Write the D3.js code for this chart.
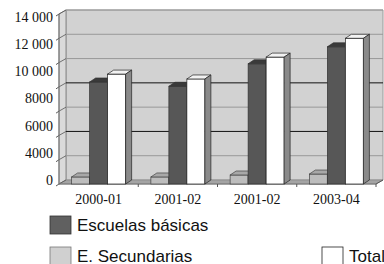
<!DOCTYPE html>
<html>
<head>
<meta charset="utf-8">
<script src="https://d3js.org/d3.v7.min.js"></script>
<style>
body{margin:0;background:#fff;}
</style>
</head>
<body>
<svg id="chart" width="384" height="264"></svg>
<script>
// data
var categories = ["2000-01", "2001-02", "2001-02", "2003-04"];
var secundarias = [580, 580, 740, 820];
var basicas = [8400, 8050, 9900, 11300];
var total = [9050, 8650, 10450, 12000];
var yTickLabels = ["14 000", "12 000", "10 000", "8000", "6000", "4000", "0"];
var gridValues = [0, 2000, 4000, 6000, 8000, 10000, 12000, 14000];
var darkGrid = [4000, 8000];
var seriesNames = ["E. Secundarias", "Escuelas básicas", "Total"];

var serifFont = "Liberation Serif, Times New Roman, serif";
var sansFont = "Liberation Sans, Arial, sans-serif";

var svg = d3.select("#chart");

var X0 = 59, X1 = 376, Y0 = 184, YT = 14;
var DX = 7, DY = -4;     // wall depth
var BDX = 6, BDY = -4;   // bar depth

var y = d3.scaleLinear().domain([0, 14000]).range([Y0, YT]);
var yLab = d3.scalePoint().domain(yTickLabels).range([17, 180]);
var x = d3.scaleBand().domain(d3.range(categories.length)).range([X0, X1]);
var bw = x.bandwidth();
var xs = d3.scaleBand().domain([0, 1, 2]).range([bw / 2 - 27, bw / 2 + 27]);

function poly(pts){ return "M" + pts.map(function(p){ return p.join(","); }).join("L") + "Z"; }

// walls
svg.append("path").attr("d", poly([[X0 + DX, YT + DY], [X1 + DX, YT + DY], [X1 + DX, Y0 + DY], [X0 + DX, Y0 + DY]]))
  .attr("fill", "#d2d2d2").attr("stroke", "#9a9a9a");
svg.append("path").attr("d", poly([[X0, YT], [X0 + DX, YT + DY], [X0 + DX, Y0 + DY], [X0, Y0]]))
  .attr("fill", "#dadada").attr("stroke", "#8a8a8a");
svg.append("path").attr("d", poly([[X0, Y0], [X1, Y0], [X1 + DX, Y0 + DY], [X0 + DX, Y0 + DY]]))
  .attr("fill", "#a4a4a4").attr("stroke", "#8a8a8a").attr("stroke-width", 0.8);

// grid
var g = svg.append("g");
gridValues.forEach(function(v){
  var col = darkGrid.indexOf(v) >= 0 ? "#111" : "#999";
  if (v > 0) {
    g.append("line").attr("x1", X0 + DX).attr("x2", X1 + DX)
      .attr("y1", y(v) + DY).attr("y2", y(v) + DY).attr("stroke", col).attr("stroke-width", 1);
  }
  g.append("line").attr("x1", X0).attr("y1", y(v)).attr("x2", X0 + DX).attr("y2", y(v) + DY)
    .attr("stroke", "#555").attr("stroke-width", 0.8);
  g.append("line").attr("x1", X0 - 3).attr("y1", y(v) + 2).attr("x2", X0).attr("y2", y(v))
    .attr("stroke", "#333").attr("stroke-width", 0.8);
});
svg.append("line").attr("x1", X0).attr("x2", X0).attr("y1", YT).attr("y2", Y0).attr("stroke", "#777");
svg.append("line").attr("x1", X0).attr("x2", X1).attr("y1", Y0).attr("y2", Y0).attr("stroke", "#777");
svg.append("line").attr("x1", X1).attr("y1", Y0).attr("x2", X1 + DX).attr("y2", Y0 + DY).attr("stroke", "#555");
d3.range(1, categories.length + 1).forEach(function(i){
  var xx = i < categories.length ? x(i) : X1;
  svg.append("line").attr("x1", xx).attr("x2", xx).attr("y1", Y0).attr("y2", Y0 + 3).attr("stroke", "#555");
});

// bars
var series = [
  {vals: secundarias, front: "#bdbdbd", top: "#a8a8a8", side: "#989898", stroke: "#444"},
  {vals: basicas, front: "#575757", top: "#3a3a3a", side: "#3f3f3f", stroke: "#333"},
  {vals: total, front: "#ffffff", top: "#f2f2f2", side: "#8a8a8a", stroke: "#222"}
];
var bars = svg.append("g");
categories.forEach(function(c, i){
  series.forEach(function(s, k){
    var bx = x(i) + xs(k), w = xs.bandwidth(), ty = y(s.vals[i]);
    bars.append("rect").attr("x", bx).attr("y", ty).attr("width", w).attr("height", Y0 - ty)
      .attr("fill", s.front).attr("stroke", s.stroke).attr("stroke-width", 0.7);
    bars.append("path").attr("d", poly([[bx, ty], [bx + BDX, ty + BDY], [bx + w + BDX, ty + BDY], [bx + w, ty]]))
      .attr("fill", s.top).attr("stroke", s.stroke).attr("stroke-width", 0.7);
    bars.append("path").attr("d", poly([[bx + w, ty], [bx + w + BDX, ty + BDY], [bx + w + BDX, Y0 + BDY], [bx + w, Y0]]))
      .attr("fill", s.side).attr("stroke", s.stroke).attr("stroke-width", 0.7);
  });
});

// y labels
svg.append("g").selectAll("text").data(yTickLabels).enter().append("text")
  .style("font-family", serifFont).style("font-size", "14px").attr("fill", "#111")
  .attr("x", 53).attr("y", function(d){ return yLab(d); })
  .attr("dy", "0.35em").attr("text-anchor", "end").text(function(d){ return d; });

// x labels
svg.append("g").selectAll("text").data(categories).enter().append("text")
  .style("font-family", serifFont).style("font-size", "14px").attr("fill", "#111")
  .attr("x", function(d, i){ return x(i) + bw / 2; }).attr("y", 204)
  .attr("text-anchor", "middle").text(function(d){ return d; });

// legend
var legend = [
  {name: seriesNames[1], fill: "#606060", stroke: "#333", lx: 50, ly: 216},
  {name: seriesNames[0], fill: "#d0d0d0", stroke: "#777", lx: 50, ly: 247},
  {name: seriesNames[2], fill: "#ffffff", stroke: "#222", lx: 322, ly: 247}
];
legend.forEach(function(l){
  svg.append("rect").attr("x", l.lx).attr("y", l.ly).attr("width", 21).attr("height", 18)
    .attr("fill", l.fill).attr("stroke", l.stroke).attr("stroke-width", 0.8);
  svg.append("text").style("font-family", sansFont).style("font-size", "17px").attr("fill", "#111")
    .attr("x", l.lx + 27).attr("y", l.ly + 14.5).text(l.name);
});
</script>
</body>
</html>
